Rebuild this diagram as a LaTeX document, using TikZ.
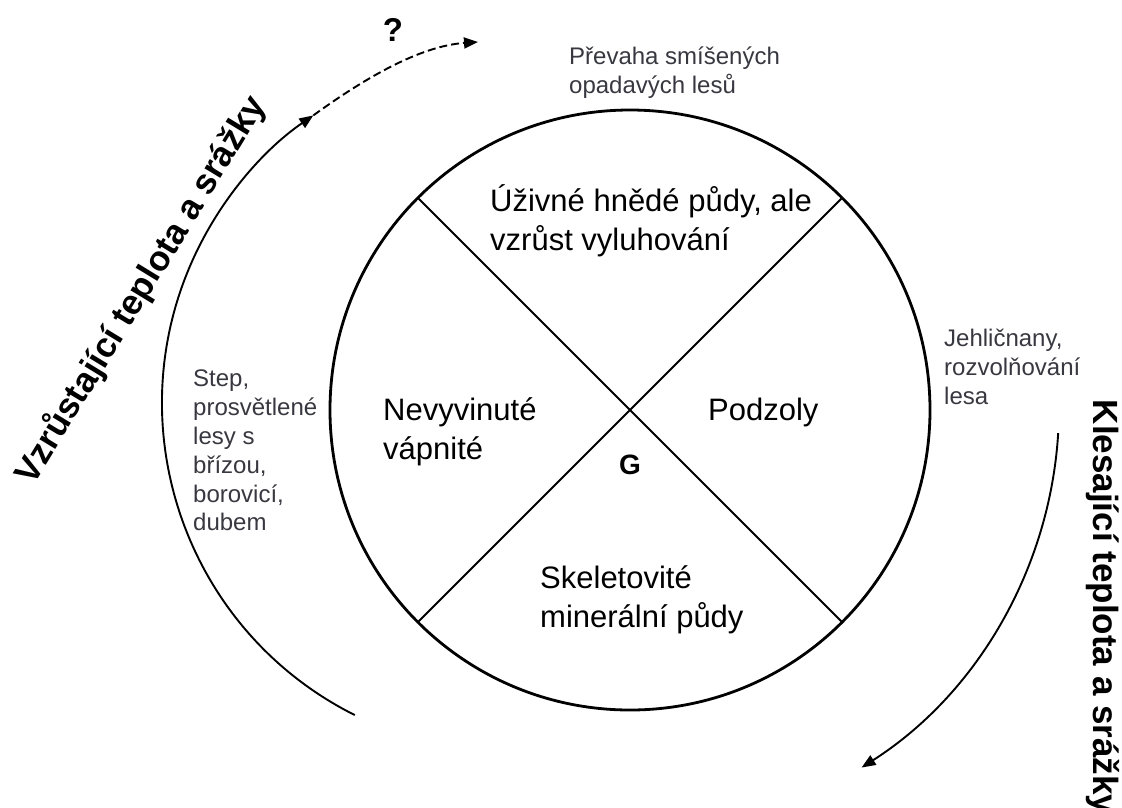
\documentclass[tikz,border=0pt]{standalone}
\usepackage{fontspec}
\setmainfont{Liberation Sans}
\usetikzlibrary{arrows.meta,calc}
\definecolor{labgray}{HTML}{383840}
\begin{document}
\begin{tikzpicture}[x=1pt,y=-1pt,
  thickline/.style={line width=2.8pt},
  thinline/.style={line width=1.8pt},
  flow/.style={line width=1.9pt,-{Triangle[length=14pt,width=11pt]}},
  small/.style={inner sep=0pt,align=left,text=labgray,font=\fontsize{24}{28.8}\selectfont},
  medium/.style={inner sep=0pt,align=left,font=\fontsize{31}{39}\selectfont},
  big/.style={inner sep=0pt,font=\bfseries\fontsize{35}{40}\selectfont}]
\useasboundingbox (0,0) rectangle (1122,807);
\fill[white] (0,0) rectangle (1122,807);
% main circle
\coordinate (c) at (630,410);
\draw[thickline] (c) circle[radius=300];
\coordinate (tl) at (418,198);
\coordinate (tr) at (842,198);
\coordinate (bl) at (418,622);
\coordinate (br) at (842,622);
\draw[thinline] (tl) -- (br);
\draw[thinline] (tr) -- (bl);
% outer arcs
\coordinate (lc) at (511,403);
\coordinate (ls) at ($(lc)+(116.6:349)$);
\draw[flow] (ls) arc[start angle=116.6,end angle=235.5,radius=349] coordinate (lt);
\coordinate (qend) at (478,42);
\draw[flow,dash pattern=on 8pt off 4pt] (lt) .. controls (365,78) and (420,46) .. (qend);
\coordinate (rc) at (631,407);
\coordinate (rs) at ($(rc)+(3.5:428)$);
\draw[flow] (rs) arc[start angle=3.5,end angle=57.4,radius=428] coordinate (rt);
% labels
\node[font=\bfseries\fontsize{33}{36}\selectfont,inner sep=0pt] (q) at (393,30) {?};
\node[small,anchor=north west] (prev) at (569,47) {Převaha smíšených\\opadavých lesů};
\node[medium,anchor=north west] (uziv) at (490,184) {Úživné hnědé půdy, ale\\vzrůst vyluhování};
\node[medium,anchor=north west] (nevy) at (383,397) {Nevyvinuté\\vápnité};
\node[medium,anchor=west] (podz) at (708,412) {Podzoly};
\node[font=\bfseries\fontsize{28}{30}\selectfont,inner sep=0pt] (g) at (630,465) {G};
\node[medium,anchor=north west] (skel) at (540,565) {Skeletovité\\minerální půdy};
\node[small,anchor=north west] (jehl) at (944,329) {Jehličnany,\\rozvolňování\\lesa};
\node[small,anchor=north west] (step) at (193,370) {Step,\\prosvětlené\\lesy s\\břízou,\\borovicí,\\dubem};
\node[big,rotate=58.6] (vzr) at (141,290) {Vzrůstající teplota a srážky};
\node[big,rotate=-90] (kles) at (1103,607) {Klesající teplota a srážky};
\end{tikzpicture}
\end{document}
